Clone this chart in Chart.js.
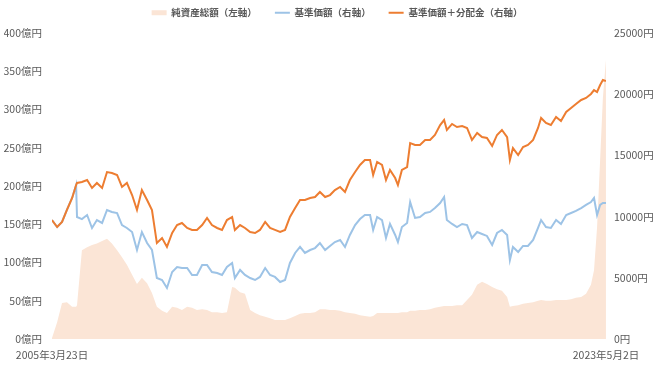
<!DOCTYPE html>
<html lang="ja">
<head>
<meta charset="utf-8">
<script src="https://cdn.jsdelivr.net/npm/chart.js@4.4.1/dist/chart.umd.min.js"></script>
<style>
  body { margin: 0; background: #fff; }
  #wrap { width: 660px; height: 371px; }
</style>
</head>
<body>
<div id="wrap"><canvas id="chart"></canvas></div>
<script>
// dates as decimal years
const years = [2005.22,2005.39,2005.55,2005.71,2005.88,2006.01,2006.04,2006.20,2006.37,2006.53,
  2006.69,2006.86,2007.02,2007.18,2007.35,2007.51,2007.67,2007.84,2008.00,2008.16,
  2008.33,2008.49,2008.65,2008.82,2008.98,2009.15,2009.31,2009.47,2009.64,2009.80,
  2009.96,2010.13,2010.29,2010.45,2010.62,2010.78,2010.94,2011.11,2011.20,2011.37,
  2011.53,2011.70,2011.86,2012.02,2012.19,2012.35,2012.51,2012.68,2012.84,2013.00,
  2013.17,2013.33,2013.49,2013.66,2013.82,2013.98,2014.15,2014.31,2014.47,2014.64,
  2014.80,2014.96,2015.13,2015.29,2015.45,2015.62,2015.72,2015.85,2016.01,2016.14,
  2016.27,2016.44,2016.53,2016.66,2016.83,2016.93,2017.09,2017.25,2017.42,2017.58,
  2017.74,2017.91,2018.04,2018.13,2018.30,2018.46,2018.63,2018.79,2018.95,2019.12,
  2019.28,2019.44,2019.61,2019.77,2019.93,2020.10,2020.19,2020.29,2020.46,2020.62,
  2020.78,2020.95,2021.11,2021.21,2021.37,2021.53,2021.70,2021.86,2022.03,2022.19,
  2022.35,2022.52,2022.68,2022.84,2022.94,2023.04,2023.14,2023.23,2023.33]

// 純資産総額 (億円, left axis)
const netAssets = [1,22,47,48,42,42,44,116,120,123,
  125,128,131,125,116,107,97,84,72,80,
  73,60,42,37,34,42,41,38,42,41,
  38,39,38,35,35,34,35,68,67,61,
  59,38,34,31,29,27,25,25,25,27,
  30,33,34,34,35,39,39,38,38,37,
  35,34,33,31,30,29,30,34,34,34,
  34,34,34,35,35,37,37,38,38,39,
  41,42,43,43,43,44,44,51,58,71,
  75,72,68,65,63,55,42,43,44,46,
  47,48,50,51,50,50,51,51,51,52,
  54,55,59,71,90,146,234,315,365]

// 基準価額 (円, right axis)
const nav = [9720,9150,9560,10540,11520,12580,9970,9800,10130,9070,
  9720,9480,10540,10380,10290,9310,9070,8740,7270,8740,
  7840,7270,4980,4820,4170,5470,5880,5800,5800,5230,
  5230,6050,6050,5470,5390,5230,5880,6210,4980,5640,
  5230,4980,4820,5070,5800,5230,5070,4660,4820,6210,
  7030,7520,7030,7270,7430,7840,7270,7600,7920,8090,
  7520,8500,9310,9800,10130,10130,8910,9970,9720,8250,
  9400,8500,7920,9150,9480,11190,9890,9970,10290,10380,
  10700,11110,11600,9720,9400,9150,9400,9310,8250,8740,
  8580,8420,7680,8660,8910,8500,6450,7520,7110,7600,
  7600,8090,9070,9720,9150,9070,9720,9400,10130,10290,
  10460,10700,10950,11190,11520,10130,10950,11110,11110]

// 基準価額＋分配金 (円, right axis)
const navWithDiv = [9720,9150,9560,10540,11520,12580,12750,12830,12990,12340,
  12750,12340,13640,13560,13400,12420,12750,11760,10540,12170,
  11360,10540,7840,8250,7520,8660,9310,9480,9070,8910,
  8910,9310,9890,9310,9070,8910,9720,9970,8910,9310,
  9070,8740,8660,8910,9560,9070,8910,8740,8910,9970,
  10700,11360,11360,11520,11600,12010,11600,11760,12170,12420,
  12010,12990,13640,14220,14620,14620,13400,14460,14220,12990,
  13810,13150,12580,13810,14050,16010,15850,15850,16260,16260,
  16670,17480,17890,17080,17570,17320,17400,17240,16260,16830,
  16500,16420,15770,16670,17080,16500,14620,15600,15030,15690,
  15850,16260,17240,18060,17650,17480,18140,17810,18550,18870,
  19200,19530,19690,20020,20340,20180,20750,21160,21080]

const seriesNames = ['純資産総額（左軸）', '基準価額（右軸）', '基準価額＋分配金（右軸）']
const firstDate = 2005.222
const lastDate = 2023.332
const dateLabels = ['2005年3月23日', '2023年5月2日']

const toPoints = vals => vals.map((v, i) => ({ x: years[i], y: v }))

Chart.defaults.font.family = "'Noto Sans CJK JP', 'Noto Sans', sans-serif"
Chart.defaults.color = '#595959'

// more room under the legend, and nudge it back to the centre
const legendRoom = {
  id: 'legendRoom',
  beforeInit(chart) {
    const fit = chart.legend.fit
    chart.legend.fit = function () {
      fit.call(this)
      this.height += 5.5
    }
  },
  afterLayout(chart) {
    chart.legend.left += 8
    chart.legend.right += 8
  }
}

new Chart(document.getElementById('chart'), {
  type: 'line',
  data: {
    datasets: [
      {
        label: seriesNames[0],
        data: toPoints(netAssets),
        yAxisID: 'y',
        fill: 'origin',
        backgroundColor: '#fbe5d6',
        borderWidth: 0,
        pointRadius: 0,
        pointStyle: 'rect',
        order: 3
      },
      {
        label: seriesNames[1],
        data: toPoints(nav),
        yAxisID: 'y1',
        borderColor: '#9dc3e6',
        backgroundColor: '#9dc3e6',
        borderWidth: 2,
        pointRadius: 0,
        pointStyle: 'line',
        order: 2
      },
      {
        label: seriesNames[2],
        data: toPoints(navWithDiv),
        yAxisID: 'y1',
        borderColor: '#ed7d31',
        backgroundColor: '#ed7d31',
        borderWidth: 2,
        pointRadius: 0,
        pointStyle: 'line',
        order: 1
      }
    ]
  },
  plugins: [legendRoom],
  options: {
    responsive: true,
    maintainAspectRatio: false,
    animation: false,
    layout: { padding: { left: 4, right: 6, top: -10, bottom: 10 } },
    plugins: {
      legend: {
        position: 'top',
        labels: {
          usePointStyle: true,
          pointStyleWidth: 15,
          boxHeight: 5,
          padding: 18,
          font: { size: 9.5, weight: 'bold' },
          color: '#595959',
          sort: (a, b) => a.datasetIndex - b.datasetIndex
        }
      },
      tooltip: { enabled: false }
    },
    scales: {
      x: {
        type: 'linear',
        min: firstDate,
        max: lastDate,
        grid: { display: false, drawTicks: false },
        border: { display: false },
        afterBuildTicks: axis => { axis.ticks = [{ value: firstDate }, { value: lastDate }] },
        afterFit: axis => { axis.height = 22 },
        ticks: {
          autoSkip: false,
          maxRotation: 0,
          padding: 10,
          font: { size: 10.5 },
          callback: (v, i) => dateLabels[i]
        }
      },
      y: {
        position: 'left',
        min: 0,
        max: 400,
        grid: { display: false, drawTicks: false },
        border: { display: false },
        afterFit: axis => { axis.width = 48 },
        ticks: { stepSize: 50, padding: 10, font: { size: 10.5 }, callback: v => v + '億円' }
      },
      y1: {
        position: 'right',
        min: 0,
        max: 25000,
        grid: { display: false, drawTicks: false },
        border: { display: false },
        afterFit: axis => { axis.width = 48 },
        ticks: { stepSize: 5000, padding: 8, font: { size: 10.5 }, callback: v => v + '円' }
      }
    }
  }
})
</script>
</body>
</html>
